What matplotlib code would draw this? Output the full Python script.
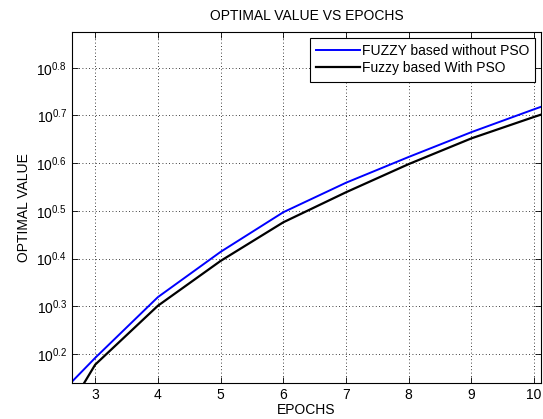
import numpy as np
import matplotlib
matplotlib.use("Agg")
import matplotlib.pyplot as plt
from matplotlib.ticker import FixedLocator, NullLocator

plt.rcParams["font.family"] = ["Liberation Sans", "DejaVu Sans"]
plt.rcParams["mathtext.fontset"] = "custom"
plt.rcParams["mathtext.rm"] = "Liberation Sans"
plt.rcParams["mathtext.it"] = "Liberation Sans:italic"

# epochs and optimal values
epochs = [2, 3, 4, 5, 6, 7, 8, 9, 10, 11]
without_pso = [1.14, 1.555, 2.085, 2.594, 3.141, 3.622, 4.102, 4.624, 5.164, 5.75]
with_pso = [0.91, 1.505, 2.0, 2.483, 2.992, 3.459, 3.963, 4.487, 4.977, 5.50]

ytick_exps = [0.2, 0.3, 0.4, 0.5, 0.6, 0.7, 0.8]
xticks = [3, 4, 5, 6, 7, 8, 9, 10]

fig = plt.figure(figsize=(5.43, 4.19), dpi=100)
ax = fig.add_axes([72 / 543, 36 / 419, 469 / 543, 351 / 419])

ax.plot(epochs, without_pso, color=(0, 0, 1), lw=1.4, label="FUZZY based without PSO")
ax.plot(epochs, with_pso, color="k", lw=1.6, label="Fuzzy based With PSO")

ax.set_yscale("log")
ax.set_xlim(2.63, 10.11)
ax.set_ylim(10 ** 0.139, 10 ** 0.875)

ax.xaxis.set_major_locator(FixedLocator(xticks))
ax.yaxis.set_major_locator(FixedLocator([10 ** e for e in ytick_exps]))
ax.yaxis.set_minor_locator(NullLocator())
ax.set_yticklabels([r"$\mathregular{10^{%g}}$" % e for e in ytick_exps])

ax.tick_params(direction="in", top=True, right=True, length=4, width=0.6,
               labelsize=10, colors="k")
ax.grid(True, linestyle=(0, (1, 3)), color="k", lw=0.6)
for s in ax.spines.values():
    s.set_linewidth(0.8)

ax.set_title("OPTIMAL VALUE VS EPOCHS", fontsize=10, pad=9)
ax.set_xlabel("EPOCHS", fontsize=10, labelpad=1)
ax.set_ylabel("OPTIMAL VALUE", fontsize=10, labelpad=4)

leg = ax.legend(loc="upper right", fontsize=10, handlelength=3.2, handletextpad=0.1,
                borderaxespad=0.4, labelspacing=0.25, fancybox=False,
                framealpha=1, edgecolor="k", borderpad=0.45)
leg.get_frame().set_linewidth(0.8)

fig.savefig("out.png", dpi=100)
